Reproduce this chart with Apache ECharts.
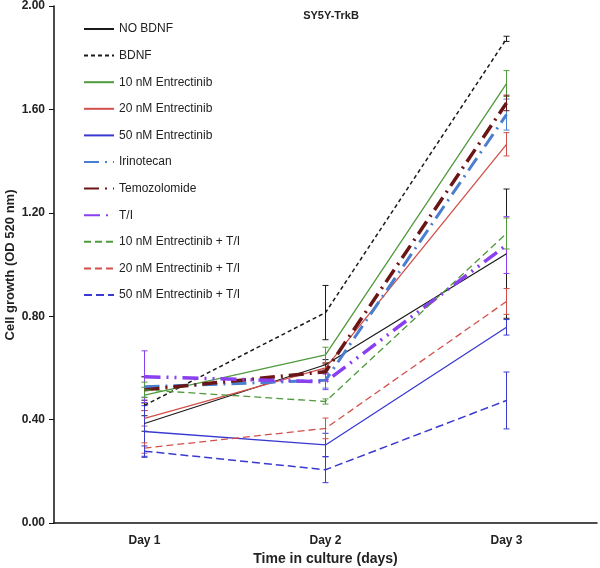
<!DOCTYPE html>
<html>
<head>
<meta charset="utf-8">
<script src="https://cdn.jsdelivr.net/npm/echarts@6/dist/echarts.min.js"></script>
<style>html,body{margin:0;padding:0;background:#fff;}#c{width:600px;height:568px;}</style>
</head>
<body>
<div id="c"></div>
<script>
var categories = ['Day 1', 'Day 2', 'Day 3'];
var yTicks = [0, 0.4, 0.8, 1.2, 1.6, 2.0];
var yAxisTitle = 'Cell growth (OD 520 nm)';

var seriesNames = ['NO BDNF', 'BDNF', '10 nM Entrectinib', '20 nM Entrectinib', '50 nM Entrectinib',
  'Irinotecan', 'Temozolomide', 'T/I', '10 nM Entrectinib + T/I', '20 nM Entrectinib + T/I', '50 nM Entrectinib + T/I'];

var noBdnf = [0.385, 0.612, 1.042];
var bdnf = [0.455, 0.814, 1.873];
var e10 = [0.495, 0.650, 1.700];
var e20 = [0.405, 0.600, 1.465];
var e50 = [0.354, 0.302, 0.757];
var irino = [0.527, 0.552, 1.580];
var temo = [0.515, 0.585, 1.625];
var ti = [0.566, 0.546, 1.075];
var e10ti = [0.515, 0.470, 1.120];
var e20ti = [0.290, 0.366, 0.857];
var e50ti = [0.278, 0.206, 0.474];

var noBdnfErr = [0.03, 0.02, 0.25];
var bdnfErr = [0.02, 0.105, 0.01];
var e10Err = [0.03, 0.03, 0.05];
var e20Err = [0.03, 0.02, 0.045];
var e50Err = [0.10, 0.045, 0.03];
var irinoErr = [0.04, 0.03, 0.06];
var temoErr = [0.05, 0.03, 0.03];
var tiErr = [0.10, 0.03, 0.11];
var e10tiErr = [0.03, 0.01, 0.06];
var e20tiErr = [0.02, 0.04, 0.05];
var e50tiErr = [0.02, 0.05, 0.11];

var values = [noBdnf, bdnf, e10, e20, e50, irino, temo, ti, e10ti, e20ti, e50ti];
var errors = [noBdnfErr, bdnfErr, e10Err, e20Err, e50Err, irinoErr, temoErr, tiErr, e10tiErr, e20tiErr, e50tiErr];

var styles = [
  {color: '#1a1a1a', width: 1.2, type: 'solid'},
  {color: '#1a1a1a', width: 1.5, type: [4, 3]},
  {color: '#4f9a3c', width: 1.3, type: 'solid'},
  {color: '#d2504a', width: 1.3, type: 'solid'},
  {color: '#3a3ad0', width: 1.3, type: 'solid'},
  {color: '#4a7fd0', width: 3, type: [15, 6, 2, 6]},
  {color: '#6a1616', width: 3.5, type: [15, 6, 2, 6]},
  {color: '#8a3ff0', width: 3.5, type: [16, 6, 2, 6, 2, 6]},
  {color: '#4f9a3c', width: 1.3, type: [7, 4]},
  {color: '#d2504a', width: 1.3, type: [7, 4]},
  {color: '#3a3ad0', width: 1.5, type: [8, 4]}
];

var series = [];
seriesNames.forEach(function (name, i) {
  series.push({
    name: name,
    type: 'line',
    data: values[i],
    symbol: 'none',
    z: 3,
    lineStyle: {color: styles[i].color, width: styles[i].width, type: styles[i].type},
    itemStyle: {color: styles[i].color}
  });
});
seriesNames.forEach(function (name, i) {
  var errData = values[i].map(function (v, k) { return [k, v - errors[i][k], v + errors[i][k]]; });
  series.push({
    name: 'err' + i,
    type: 'custom',
    z: 2,
    data: errData,
    renderItem: function (params, api) {
      var x = api.value(0);
      var lo = api.coord([x, api.value(1)]);
      var hi = api.coord([x, api.value(2)]);
      var c = styles[i].color;
      var st = {stroke: c, lineWidth: 1};
      return {
        type: 'group',
        children: [
          {type: 'line', shape: {x1: lo[0], y1: lo[1], x2: hi[0], y2: hi[1]}, style: st},
          {type: 'line', shape: {x1: lo[0] - 3, y1: lo[1], x2: lo[0] + 3, y2: lo[1]}, style: st},
          {type: 'line', shape: {x1: hi[0] - 3, y1: hi[1], x2: hi[0] + 3, y2: hi[1]}, style: st}
        ]
      };
    }
  });
});

var chart = echarts.init(document.getElementById('c'));
chart.setOption({
  animation: false,
  backgroundColor: '#fff',
  title: {
    text: 'SY5Y-TrkB',
    left: 326, top: 5, textAlign: 'center',
    textStyle: {fontFamily: 'Liberation Sans', fontWeight: 'bold', fontSize: 11, color: '#222'}
  },
  legend: {
    data: seriesNames,
    orient: 'vertical',
    left: 78, top: 18,
    itemWidth: 30, itemHeight: 12, itemGap: 14.6,
    itemStyle: {opacity: 0},
    textStyle: {fontFamily: 'Liberation Sans', fontSize: 12, color: '#222'}
  },
  graphic: [{
    type: 'text',
    x: 10, y: 265,
    rotation: Math.PI / 2,
    style: {
      text: yAxisTitle,
      fontFamily: 'Liberation Sans', fontWeight: 'bold', fontSize: 13, fill: '#222',
      textAlign: 'center', textVerticalAlign: 'middle'
    }
  }],
  grid: {left: 54, right: 3, top: 6, bottom: 45, containLabel: false, outerBoundsMode: 'none'},
  xAxis: {
    type: 'category',
    data: categories,
    boundaryGap: true,
    name: 'Time in culture (days)',
    nameLocation: 'middle',
    nameGap: 29,
    nameTextStyle: {fontFamily: 'Liberation Sans', fontWeight: 'bold', fontSize: 14, color: '#222'},
    axisLine: {lineStyle: {color: '#111', width: 1.5}},
    axisTick: {alignWithLabel: true, length: 5, lineStyle: {color: '#111'}},
    axisLabel: {fontFamily: 'Liberation Sans', fontWeight: 'bold', fontSize: 12, color: '#222', margin: 12},
    splitLine: {show: false}
  },
  yAxis: {
    type: 'value',
    min: 0, max: 2, interval: 0.4,
    axisLine: {show: true, lineStyle: {color: '#111', width: 1.5}},
    axisTick: {show: true, length: 5, lineStyle: {color: '#111'}},
    axisLabel: {fontFamily: 'Liberation Sans', fontWeight: 'bold', fontSize: 12, color: '#222', margin: 9,
      formatter: function (v) { return v.toFixed(2); }},
    splitLine: {show: false}
  },
  series: series
});
</script>
</body>
</html>
